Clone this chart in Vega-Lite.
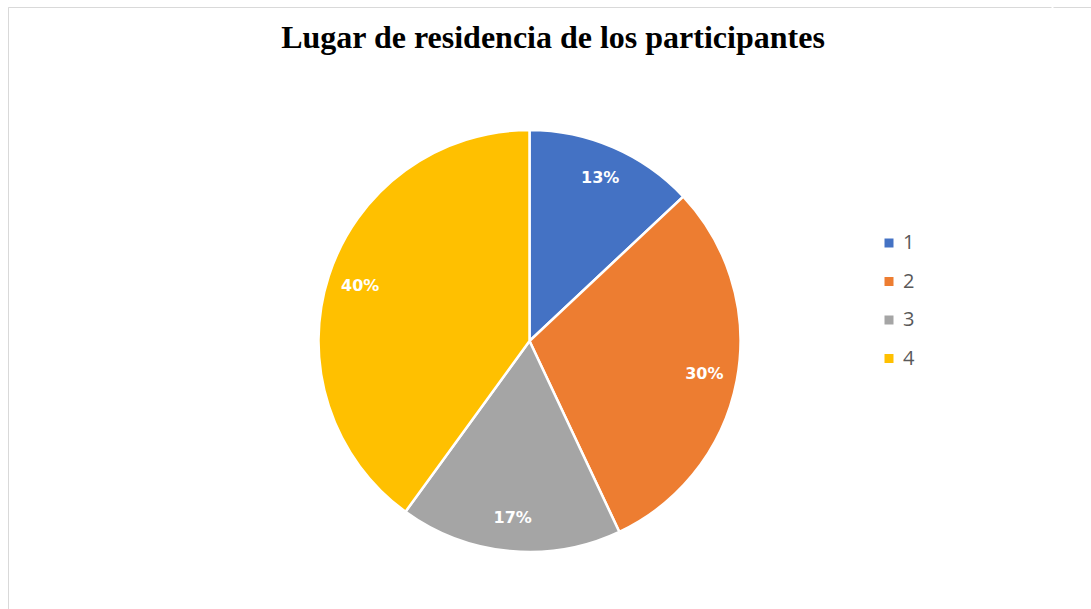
{
  "$schema": "https://vega.github.io/schema/vega-lite/v6.json",
  "autosize": {"type": "pad"},
  "padding": {"left": 7, "top": 6, "right": -9.5, "bottom": -65.5},
  "background": "white",
  "spacing": 0,
  "title": {
    "text": "Lugar de residencia de los participantes",
    "font": "Liberation Serif",
    "fontSize": 32,
    "fontWeight": "bold",
    "color": "#000000",
    "anchor": "middle",
    "baseline": "alphabetic",
    "dx": -2.5,
    "offset": -73.5
  },
  "datasets": {
    "lugares": [
      {"lugar": "1", "value": 13, "label": "13%"},
      {"lugar": "2", "value": 30, "label": "30%"},
      {"lugar": "3", "value": 17, "label": "17%"},
      {"lugar": "4", "value": 40, "label": "40%"}
    ],
    "vacio": []
  },
  "hconcat": [
    {
      "width": 1043,
      "height": 668,
      "view": {"stroke": "#D9D9D9", "strokeWidth": 1, "strokeDash": [1043, 1711, 668]},
      "data": {"name": "lugares"},
      "encoding": {
        "theta": {"field": "value", "type": "quantitative", "stack": true},
        "order": {"field": "lugar", "type": "nominal"},
        "color": {
          "field": "lugar",
          "type": "nominal",
          "scale": {"domain": ["1", "2", "3", "4"], "range": ["#4472C4", "#ED7D31", "#A5A5A5", "#FFC000"]},
          "legend": {
            "title": null,
            "orient": "none",
            "legendX": 871,
            "legendY": 226,
            "padding": 0,
            "symbolType": "square",
            "symbolSize": 81,
            "symbolStrokeWidth": 0,
            "labelFont": "Open Sans",
            "labelFontSize": 20,
            "labelColor": "#595959",
            "labelOffset": 4,
            "rowPadding": 18.5
          }
        }
      },
      "layer": [
        {
          "mark": {"type": "arc", "radius": 211, "stroke": "#FFFFFF", "strokeWidth": 2.5}
        },
        {
          "mark": {"type": "text", "radius": 178, "font": "DejaVu Sans", "fontWeight": "bold", "fontSize": 16, "fill": "#FFFFFF", "align": "center", "baseline": "middle"},
          "encoding": {
            "text": {"field": "label", "type": "nominal"},
            "color": {"value": "#FFFFFF"}
          }
        }
      ]
    },
    {
      "width": 50,
      "height": 668,
      "view": {"stroke": "#D9D9D9", "strokeWidth": 1, "strokeDash": [50, 2000]},
      "data": {"name": "vacio"},
      "mark": "arc",
      "encoding": {
        "theta": {"field": "value", "type": "quantitative"}
      }
    }
  ]
}
